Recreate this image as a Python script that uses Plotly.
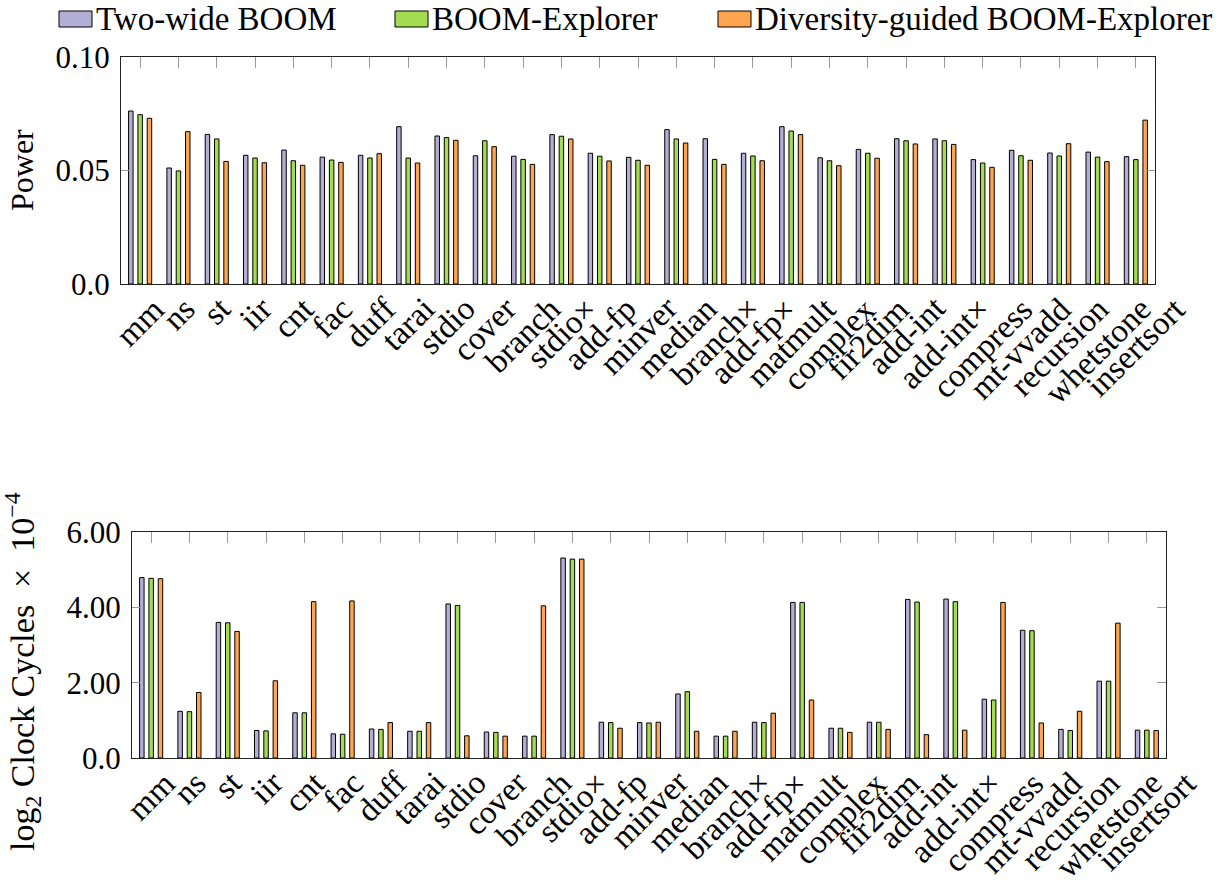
import plotly.graph_objects as go

# Benchmarks
benchmarks = ["mm", "ns", "st", "iir", "cnt", "fac", "duff", "tarai", "stdio", "cover",
              "branch", "stdio×", "add-fp", "minver", "median", "branch×", "add-fp×",
              "matmult", "complex", "fir2dim", "add-int", "add-int×", "compress",
              "mt-vvadd", "recursion", "whetstone", "insertsort"]

series_names = ["Two-wide BOOM", "BOOM-Explorer", "Diversity-guided BOOM-Explorer"]

# Power
power_two_wide = [0.0762, 0.0511, 0.0659, 0.0567, 0.0590, 0.0559, 0.0567, 0.0693, 0.0652, 0.0565,
                  0.0563, 0.0658, 0.0576, 0.0558, 0.0680, 0.0640, 0.0576, 0.0693, 0.0556, 0.0593,
                  0.0640, 0.0639, 0.0548, 0.0589, 0.0577, 0.0581, 0.0561]
power_explorer = [0.0746, 0.0498, 0.0639, 0.0555, 0.0543, 0.0546, 0.0555, 0.0555, 0.0645, 0.0631,
                  0.0549, 0.0651, 0.0563, 0.0545, 0.0639, 0.0549, 0.0564, 0.0674, 0.0543, 0.0576,
                  0.0631, 0.0631, 0.0533, 0.0565, 0.0564, 0.0559, 0.0548]
power_diversity = [0.0730, 0.0671, 0.0540, 0.0534, 0.0523, 0.0536, 0.0574, 0.0533, 0.0633, 0.0605,
                   0.0527, 0.0639, 0.0542, 0.0523, 0.0621, 0.0527, 0.0543, 0.0658, 0.0521, 0.0554,
                   0.0617, 0.0615, 0.0514, 0.0545, 0.0618, 0.0539, 0.0722]

# log2 clock cycles (x 1e-4)
cycles_two_wide = [4.79, 1.24, 3.60, 0.73, 1.20, 0.64, 0.77, 0.71, 4.09, 0.69,
                   0.58, 5.31, 0.95, 0.94, 1.70, 0.58, 0.95, 4.13, 0.79, 0.95,
                   4.21, 4.22, 1.56, 3.39, 0.76, 2.04, 0.74]
cycles_explorer = [4.77, 1.23, 3.59, 0.72, 1.20, 0.63, 0.76, 0.71, 4.05, 0.68,
                   0.58, 5.28, 0.94, 0.93, 1.76, 0.58, 0.94, 4.13, 0.79, 0.95,
                   4.14, 4.15, 1.54, 3.38, 0.73, 2.04, 0.74]
cycles_diversity = [4.76, 1.74, 3.36, 2.05, 4.15, 4.17, 0.94, 0.94, 0.59, 0.58,
                    4.04, 5.28, 0.79, 0.95, 0.71, 0.71, 1.19, 1.54, 0.68, 0.76,
                    0.62, 0.74, 4.13, 0.93, 1.24, 3.58, 0.73]

power_ticks = [0.0, 0.05, 0.10]
power_ticktext = ["0.0", "0.05", "0.10"]
cycle_ticks = [0, 2, 4, 6]
cycle_ticktext = ["0.0", "2.00", "4.00", "6.00"]

colors = ["#b3aed6", "#a3dc50", "#ffa54f"]
FONT = "Liberation Serif"
FS = 31
LABEL_FS = 33
W, H = 1232, 885

fig = go.Figure()

for vals, name, col in zip([power_two_wide, power_explorer, power_diversity], series_names, colors):
    fig.add_trace(go.Bar(x=benchmarks, y=vals, name=name, marker=dict(color=col, line=dict(color="black", width=1)),
                         xaxis="x", yaxis="y", showlegend=False))
for vals, name, col in zip([cycles_two_wide, cycles_explorer, cycles_diversity], series_names, colors):
    fig.add_trace(go.Bar(x=benchmarks, y=vals, name=name, marker=dict(color=col, line=dict(color="black", width=1)),
                         xaxis="x2", yaxis="y2", showlegend=False))

# panel geometry in pixels
top_box = dict(x0=121, x1=1155, y0=57, y1=284)
bot_box = dict(x0=132, x1=1166, y0=532, y1=758)

def px_dom(b):
    return [b["x0"] / W, b["x1"] / W], [1 - b["y1"] / H, 1 - b["y0"] / H]

tx, ty = px_dom(top_box)
bx, by = px_dom(bot_box)

xcommon = dict(type="category", range=[-0.5, len(benchmarks) - 0.5], side="top", ticks="inside",
               ticklen=11, tickcolor="#999999", tickwidth=1.2, showticklabels=False, automargin=False,
               showline=True, linecolor="#222222", linewidth=1.3, mirror=True, showgrid=False, zeroline=False)
ycommon = dict(ticks="inside", ticklen=9, tickcolor="#999999", tickwidth=1.2, showline=True, automargin=False,
               linecolor="#222222", linewidth=1.3, mirror="ticks", showgrid=False, zeroline=False,
               tickfont=dict(family=FONT, size=FS, color="black"), ticklabelstandoff=4)

fig.update_layout(
    width=W, height=H, autosize=False, margin=dict(l=0, r=0, t=0, b=0, pad=0),
    plot_bgcolor="white", paper_bgcolor="white", showlegend=False,
    barmode="group", bargap=0.27, bargroupgap=0.52,
    xaxis=dict(domain=tx, anchor="y", **xcommon),
    yaxis=dict(domain=ty, anchor="x", range=[0, 0.10], tickvals=power_ticks, ticktext=power_ticktext, **ycommon),
    xaxis2=dict(domain=bx, anchor="y2", **xcommon),
    yaxis2=dict(domain=by, anchor="x2", range=[0, 6], tickvals=cycle_ticks, ticktext=cycle_ticktext, **ycommon),
    font=dict(family=FONT, size=FS, color="black"),
)

annotations = []
# rotated category labels under each panel
for xref, box in (("x", top_box), ("x2", bot_box)):
    for b in benchmarks:
        annotations.append(dict(x=b, xref=xref, y=1 - (box["y1"] + 4) / H, yref="paper", text=b,
                                textangle=-45, xanchor="center", yanchor="top", showarrow=False,
                                font=dict(family=FONT, size=LABEL_FS)))

# y-axis titles
annotations.append(dict(x=22 / W, y=1 - 170 / H, xref="paper", yref="paper", text="Power", textangle=-90,
                        showarrow=False, xanchor="center", yanchor="middle", font=dict(family=FONT, size=32)))
annotations.append(dict(x=22 / W, y=1 - 672 / H, xref="paper", yref="paper",
                        text="log<sub>2</sub>&nbsp;Clock Cycles&nbsp;&nbsp;×&nbsp;&nbsp;10<sup>−4</sup>", textangle=-90,
                        showarrow=False, xanchor="center", yanchor="middle", font=dict(family=FONT, size=34)))

# legend row
shapes = []
legend_boxes = [(59, 92), (395, 428), (718, 751)]
for (x0, x1), name, col in zip(legend_boxes, series_names, colors):
    shapes.append(dict(type="rect", xref="paper", yref="paper", x0=x0 / W, x1=x1 / W,
                       y0=1 - 27 / H, y1=1 - 11 / H, fillcolor=col, line=dict(color="black", width=1)))
    annotations.append(dict(x=(x1 + 2) / W, y=1 - 19 / H, xref="paper", yref="paper", text=name,
                            xanchor="left", yanchor="middle", showarrow=False, font=dict(family=FONT, size=33)))

fig.update_layout(annotations=annotations, shapes=shapes)
fig.write_html("out.html")
